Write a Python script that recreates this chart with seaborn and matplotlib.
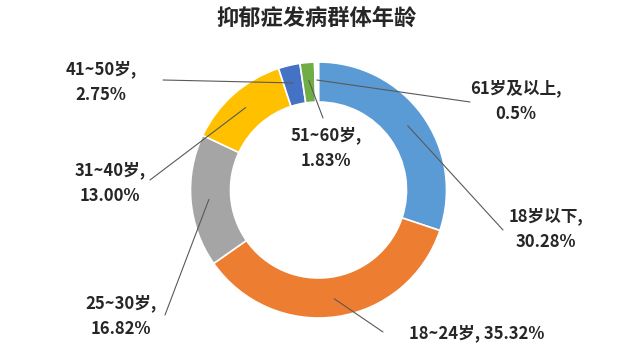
import matplotlib
matplotlib.use("Agg")
import matplotlib.pyplot as plt
import numpy as np
import seaborn as sns

sns.set_theme(style="white")
plt.rcParams['font.family'] = ['Noto Sans CJK SC', 'DejaVu Sans']

title = "抑郁症发病群体年龄"
categories = ["18岁以下", "18~24岁", "25~30岁", "31~40岁", "41~50岁", "51~60岁", "61岁及以上"]
values = [30.28, 35.32, 16.82, 13.00, 2.75, 1.83, 0.5]
value_labels = ["30.28%", "35.32%", "16.82%", "13.00%", "2.75%", "1.83%", "0.5%"]
colors = ["#5B9BD5", "#ED7D31", "#A5A5A5", "#FFC000", "#4472C4", "#70AD47", "#FFFFFF"]

W, H = 640, 354
# label centre positions in pixel space (x, y from top), and whether one line
label_pos = [(546, 229), (477, 333), (121, 316), (110, 183), (101, 82), (326, 148), (516, 101)]
label_oneline = [False, True, False, False, False, False, False]
leader_end = [(503, 230), (383, 332), (165, 315), (150, 180), (163, 80), (323, 118), (470, 102)]

fig = plt.figure(figsize=(6.4, 3.54), dpi=100)
ax = fig.add_axes([0, 0, 1, 1])

cx, cy, R = 318.5, H - 190, 128
pal = sns.color_palette(colors)
wedges, _ = ax.pie(values, colors=pal, startangle=90, counterclock=False,
                   center=(cx, cy), radius=R, frame=True,
                   wedgeprops=dict(width=40, edgecolor="white", linewidth=1.2))
ax.set_xlim(0, W)
ax.set_ylim(0, H)
ax.set_aspect("equal")
ax.axis("off")

text_color = "#262626"
for i, w in enumerate(wedges):
    mid = np.deg2rad((w.theta1 + w.theta2) / 2)
    r = 110
    sx, sy = cx + r * np.cos(mid), cy + r * np.sin(mid)
    ex, ey = leader_end[i]
    ax.plot([sx, ex], [sy, H - ey], color="#595959", lw=0.8, zorder=5)
    lx, ly = label_pos[i]
    if label_oneline[i]:
        txt = f"{categories[i]}, {value_labels[i]}"
    else:
        txt = f"{categories[i]},\n{value_labels[i]}"
    ax.text(lx, H - ly, txt, ha="center", va="center", fontsize=12, fontweight="bold",
            color=text_color, linespacing=1.55, zorder=6)

ax.text(316, H - 18, title, ha="center", va="center", fontsize=16,
        fontweight="bold", color=text_color)

fig.savefig("out.png", dpi=100, facecolor="white")
